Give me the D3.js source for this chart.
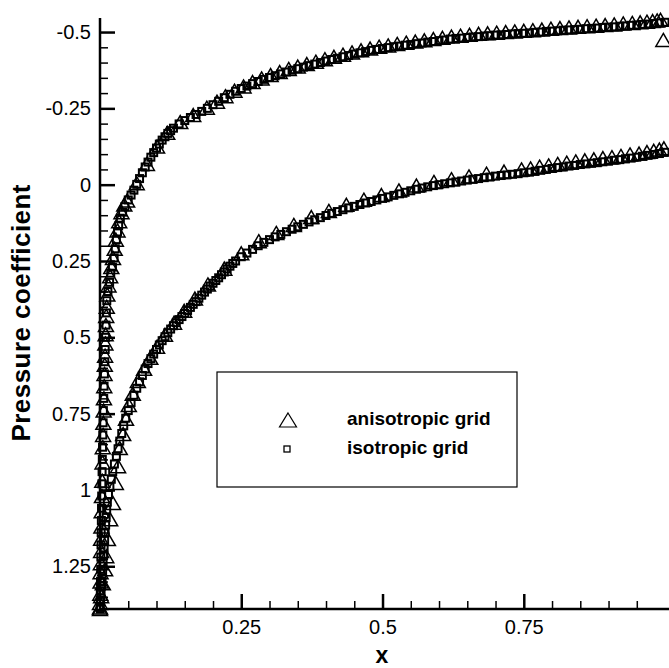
<!DOCTYPE html>
<html>
<head>
<meta charset="utf-8">
<script src="https://cdn.jsdelivr.net/npm/d3@7"></script>
<style>
  body { margin: 0; background: #fff; }
  text { font-family: "Liberation Sans", Arial, Helvetica, sans-serif; fill: #000; }
</style>
</head>
<body>
<div id="cp-chart"></div>
<script>
// Pressure coefficient, [x, cp]
var anisoUpper = [
  [0.000,1.39],[0.000,1.37],[0.0005,1.34],[0.001,1.30],[0.001,1.27],[0.0015,1.24],[0.002,1.20],[0.002,1.16],
  [0.0025,1.12],[0.003,1.07],[0.0035,1.02],[0.004,0.97],[0.0045,0.91],[0.005,0.86],[0.0055,0.82],[0.006,0.78],
  [0.0065,0.74],[0.007,0.70],[0.0075,0.66],[0.008,0.62],[0.0085,0.59],[0.009,0.56],[0.0095,0.52],[0.010,0.49],
  [0.0105,0.46],[0.011,0.43],[0.012,0.40],[0.013,0.36],[0.015,0.33],[0.018,0.30],[0.020,0.27],[0.023,0.24],
  [0.026,0.21],[0.028,0.18],[0.031,0.15],[0.034,0.12],[0.038,0.09],[0.043,0.065],
  [0.048,0.052],[0.065,-0.005],[0.083,-0.068],[0.101,-0.125],[0.119,-0.170],[0.142,-0.205],[0.165,-0.228],
  [0.189,-0.252],[0.207,-0.272],[0.222,-0.290],[0.238,-0.308],[0.254,-0.322],[0.270,-0.336],[0.286,-0.348],
  [0.302,-0.359],[0.318,-0.369],[0.334,-0.379],[0.350,-0.387],[0.366,-0.395],[0.382,-0.403],[0.398,-0.411],
  [0.414,-0.419],[0.430,-0.426],[0.446,-0.433],[0.462,-0.440],[0.478,-0.446],[0.494,-0.452],[0.510,-0.456],
  [0.526,-0.461],[0.542,-0.465],[0.558,-0.469],[0.574,-0.473],[0.590,-0.477],[0.606,-0.481],[0.622,-0.485],
  [0.638,-0.488],[0.654,-0.491],[0.670,-0.494],[0.686,-0.496],[0.702,-0.498],[0.718,-0.500],[0.734,-0.502],
  [0.750,-0.504],[0.766,-0.506],[0.782,-0.508],[0.798,-0.511],[0.814,-0.513],[0.830,-0.515],[0.846,-0.517],
  [0.862,-0.519],[0.878,-0.521],[0.894,-0.523],[0.910,-0.525],[0.926,-0.528],[0.942,-0.530],[0.956,-0.532],
  [0.968,-0.534],[0.978,-0.536],[0.986,-0.538],[0.992,-0.540],[0.997,-0.474]
];

var anisoLower = [
  [0.000,1.385],[0.002,1.348],[0.005,1.306],[0.009,1.260],[0.011,1.217],[0.014,1.161],[0.018,1.096],
  [0.023,1.043],[0.028,0.977],[0.032,0.922],[0.035,0.863],[0.041,0.817],[0.046,0.767],[0.051,0.722],
  [0.058,0.685],[0.067,0.643],[0.078,0.603],[0.089,0.567],[0.101,0.531],[0.115,0.492],[0.131,0.452],
  [0.149,0.413],[0.168,0.373],[0.191,0.327],[0.220,0.275],[0.250,0.225],
  [0.281,0.185],[0.312,0.158],[0.343,0.132],[0.374,0.106],[0.405,0.086],[0.436,0.066],[0.467,0.049],
  [0.498,0.034],[0.529,0.019],[0.560,0.003],[0.591,-0.009],[0.622,-0.018],[0.653,-0.027],[0.684,-0.036],
  [0.715,-0.043],[0.746,-0.050],[0.762,-0.053],[0.778,-0.059],[0.794,-0.063],[0.810,-0.068],[0.826,-0.072],
  [0.842,-0.076],[0.858,-0.080],[0.874,-0.083],[0.890,-0.087],[0.906,-0.090],[0.922,-0.094],[0.938,-0.099],
  [0.954,-0.102],[0.968,-0.107],[0.980,-0.111],[0.990,-0.115],[0.998,-0.119]
];

var isoUpper = [
  [0.000,1.385],[0.0003,1.36],[0.0006,1.33],[0.0009,1.30],[0.0012,1.26],[0.0015,1.22],[0.0018,1.18],
  [0.0021,1.14],[0.0024,1.10],[0.0027,1.06],[0.003,1.02],[0.0033,0.98],[0.0037,0.94],[0.0041,0.90],
  [0.0045,0.86],[0.005,0.82],[0.0055,0.78],[0.006,0.74],[0.0066,0.70],[0.0072,0.66],[0.0078,0.62],
  [0.0085,0.58],[0.0092,0.54],[0.0099,0.50],[0.0106,0.46],[0.0113,0.42],[0.012,0.38],[0.014,0.35],
  [0.017,0.32],[0.019,0.29],[0.022,0.27],[0.025,0.24],[0.027,0.21],[0.029,0.18],[0.031,0.155],
  [0.033,0.135],[0.036,0.11],[0.040,0.09],[0.044,0.072],
  [0.05,0.050],[0.055,0.034],[0.06,0.018],[0.065,-0.001],[0.07,-0.020],[0.075,-0.039],[0.08,-0.058],
  [0.085,-0.074],[0.09,-0.090],[0.095,-0.105],[0.10,-0.120],[0.105,-0.133],[0.11,-0.146],[0.115,-0.157],
  [0.12,-0.168],[0.125,-0.177],[0.13,-0.185],[0.14,-0.199],[0.15,-0.210],[0.16,-0.220],[0.17,-0.230],
  [0.18,-0.240],[0.19,-0.250],[0.20,-0.262],[0.21,-0.273],[0.22,-0.285],[0.23,-0.296],[0.24,-0.306],
  [0.25,-0.315],[0.26,-0.323],[0.27,-0.331],[0.28,-0.338],[0.29,-0.345],[0.30,-0.351],[0.31,-0.357],
  [0.32,-0.363],[0.33,-0.369],[0.34,-0.375],[0.35,-0.380],[0.36,-0.385],[0.37,-0.390],[0.38,-0.395],
  [0.39,-0.400],[0.40,-0.405],[0.41,-0.410],[0.42,-0.414],[0.43,-0.419],[0.44,-0.423],[0.45,-0.428],
  [0.46,-0.432],[0.47,-0.436],[0.48,-0.440],[0.49,-0.443],[0.50,-0.446],[0.51,-0.449],[0.52,-0.452],
  [0.53,-0.454],[0.54,-0.457],[0.55,-0.459],[0.56,-0.462],[0.57,-0.464],[0.58,-0.467],[0.59,-0.469],
  [0.60,-0.472],[0.61,-0.474],[0.62,-0.477],[0.63,-0.479],[0.64,-0.480],[0.65,-0.482],[0.66,-0.484],
  [0.67,-0.485],[0.68,-0.487],[0.69,-0.488],[0.70,-0.490],[0.71,-0.491],[0.72,-0.492],[0.73,-0.494],
  [0.74,-0.495],[0.75,-0.496],[0.76,-0.497],[0.77,-0.499],[0.78,-0.500],[0.79,-0.502],[0.80,-0.503],
  [0.81,-0.504],[0.82,-0.506],[0.83,-0.507],[0.84,-0.508],[0.85,-0.509],[0.86,-0.511],[0.87,-0.512],
  [0.88,-0.513],[0.89,-0.515],[0.90,-0.516],[0.91,-0.517],[0.92,-0.519],[0.93,-0.520],[0.94,-0.522],
  [0.95,-0.523],[0.96,-0.525],[0.97,-0.526],[0.98,-0.528],[0.99,-0.530],[1.00,-0.532]
];

var isoLower = [
  [0.0005,1.39],[0.0012,1.365],[0.0019,1.34],[0.0027,1.315],[0.0037,1.29],[0.0046,1.265],[0.0055,1.24],
  [0.0064,1.215],[0.0073,1.19],[0.0082,1.165],[0.0091,1.14],[0.0100,1.115],[0.0109,1.09],[0.0118,1.065],
  [0.0130,1.04],[0.0150,1.015],[0.0175,0.99],[0.0200,0.965],[0.0225,0.94],[0.0255,0.915],[0.0290,0.89],
  [0.0320,0.865],[0.0350,0.84],[0.0385,0.815],[0.0420,0.79],[0.0455,0.765],
  [0.05,0.740],[0.055,0.714],[0.06,0.690],[0.065,0.667],[0.07,0.646],[0.075,0.625],[0.08,0.604],
  [0.085,0.586],[0.09,0.570],[0.095,0.555],[0.10,0.540],[0.105,0.525],[0.11,0.511],[0.115,0.498],
  [0.12,0.485],[0.125,0.473],[0.13,0.462],[0.135,0.452],[0.14,0.442],[0.145,0.432],[0.15,0.422],
  [0.155,0.412],[0.16,0.402],[0.165,0.392],[0.17,0.383],[0.175,0.372],[0.18,0.362],[0.185,0.352],
  [0.19,0.342],[0.195,0.332],[0.20,0.323],[0.205,0.314],[0.21,0.305],[0.215,0.295],[0.22,0.286],
  [0.225,0.276],[0.23,0.267],[0.235,0.258],[0.24,0.250],[0.25,0.236],[0.26,0.224],[0.27,0.212],
  [0.28,0.200],[0.29,0.189],[0.30,0.180],[0.31,0.171],[0.32,0.163],[0.33,0.154],[0.34,0.146],
  [0.35,0.138],[0.36,0.130],[0.37,0.122],[0.38,0.115],[0.39,0.108],[0.40,0.101],[0.41,0.094],
  [0.42,0.088],[0.43,0.082],[0.44,0.076],[0.45,0.071],[0.46,0.065],[0.47,0.060],[0.48,0.055],
  [0.49,0.050],[0.50,0.045],[0.51,0.040],[0.52,0.035],[0.53,0.030],[0.54,0.025],[0.55,0.020],
  [0.56,0.015],[0.57,0.011],[0.58,0.007],[0.59,0.003],[0.60,0.000],[0.61,-0.003],[0.62,-0.006],
  [0.63,-0.009],[0.64,-0.012],[0.65,-0.015],[0.66,-0.018],[0.67,-0.020],[0.68,-0.023],[0.69,-0.025],
  [0.70,-0.028],[0.71,-0.030],[0.72,-0.032],[0.73,-0.034],[0.74,-0.036],[0.75,-0.039],[0.76,-0.041],
  [0.77,-0.044],[0.78,-0.047],[0.79,-0.050],[0.80,-0.053],[0.81,-0.056],[0.82,-0.058],[0.83,-0.061],
  [0.84,-0.063],[0.85,-0.066],[0.86,-0.068],[0.87,-0.070],[0.88,-0.072],[0.89,-0.075],[0.90,-0.077],
  [0.91,-0.080],[0.92,-0.082],[0.93,-0.085],[0.94,-0.087],[0.95,-0.090],[0.96,-0.093],[0.97,-0.096],
  [0.98,-0.099],[0.99,-0.102],[1.00,-0.106]
];

// tick values and labels
var yTicks = [-0.5, -0.25, 0, 0.25, 0.5, 0.75, 1, 1.25];
var yTickLabels = ["-0.5", "-0.25", "0", "0.25", "0.5", "0.75", "1", "1.25"];
var xTicks = [0.25, 0.5, 0.75];
var xTickLabels = ["0.25", "0.5", "0.75"];
var legendLabels = ["anisotropic grid", "isotropic grid"];

var width = 669, height = 668;

var svg = d3.select("#cp-chart")
  .append("svg")
    .attr("width", width)
    .attr("height", height);

var x = d3.scaleLinear().domain([0, 1.007]).range([100, 669]);
// cp axis is reversed: negative values on top
var y = d3.scaleLinear().domain([-0.546, 1.39]).range([18, 609]);

var yMinor = d3.range(-45, 140, 5).map((d) => d / 100).filter((d) => yTicks.indexOf(d) < 0);
var xMinor = d3.range(5, 100, 5).map((d) => d / 100).filter((d) => xTicks.indexOf(d) < 0);

// Markers first, axes on top
var tri = "M0,-6.5L7.5,6.5L-7.5,6.5Z";

[anisoUpper, anisoLower].forEach((series) => {
  svg.append("g")
    .selectAll("path")
    .data(series)
    .enter()
    .append("path")
      .attr("d", tri)
      .attr("transform", (d) => "translate(" + x(d[0]) + "," + y(d[1]) + ")")
      .attr("fill", "none")
      .attr("stroke", "#000")
      .attr("stroke-width", 1.5);
});

[isoUpper, isoLower].forEach((series) => {
  svg.append("g")
    .selectAll("rect")
    .data(series)
    .enter()
    .append("rect")
      .attr("x", (d) => x(d[0]) - 3.5)
      .attr("y", (d) => y(d[1]) - 3.5)
      .attr("width", 7)
      .attr("height", 7)
      .attr("fill", "none")
      .attr("stroke", "#000")
      .attr("stroke-width", 2);
});

// Add Y axis (ticks point inward)
var yAxis = svg.append("g")
  .attr("transform", "translate(" + x(0) + ",0)")
  .call(d3.axisLeft(y)
    .tickValues(yTicks)
    .tickSize(-15)
    .tickPadding(9)
    .tickFormat((d, i) => yTickLabels[i]));

var yAxisMinor = svg.append("g")
  .attr("transform", "translate(" + x(0) + ",0)")
  .call(d3.axisLeft(y)
    .tickValues(yMinor)
    .tickSize(-8)
    .tickFormat(() => ""));

// Add X axis
var xAxis = svg.append("g")
  .attr("transform", "translate(0," + y(1.39) + ")")
  .call(d3.axisBottom(x)
    .tickValues(xTicks)
    .tickSize(-15)
    .tickPadding(11)
    .tickFormat((d, i) => xTickLabels[i]));

var xAxisMinor = svg.append("g")
  .attr("transform", "translate(0," + y(1.39) + ")")
  .call(d3.axisBottom(x)
    .tickValues(xMinor)
    .tickSize(-8)
    .tickFormat(() => ""));

[yAxis, yAxisMinor, xAxis, xAxisMinor].forEach((g) => g.select(".domain").remove());
[yAxis, xAxis].forEach((g) => {
  g.selectAll("line").attr("stroke", "#000").attr("stroke-width", 2.5);
  g.selectAll("text").style("font-size", "20px").attr("fill", "#000");
});
[yAxisMinor, xAxisMinor].forEach((g) => g.selectAll("line").attr("stroke", "#000").attr("stroke-width", 1.5));

// axis lines
svg.append("line")
  .attr("x1", x(0)).attr("x2", x(0))
  .attr("y1", y.range()[0]).attr("y2", y.range()[1] + 1)
  .attr("stroke", "#000").attr("stroke-width", 2.5);
svg.append("line")
  .attr("x1", x(0) - 1).attr("x2", x.range()[1])
  .attr("y1", y.range()[1]).attr("y2", y.range()[1])
  .attr("stroke", "#000").attr("stroke-width", 2.5);

// axis titles
svg.append("text")
  .attr("transform", "translate(29.5,313) rotate(-90)")
  .attr("text-anchor", "middle")
  .attr("textLength", 257)
  .attr("lengthAdjust", "spacing")
  .style("font-size", "26px")
  .style("font-weight", "bold")
  .text("Pressure coefficient");

svg.append("text")
  .attr("x", 382)
  .attr("y", 663)
  .attr("text-anchor", "middle")
  .style("font-size", "23px")
  .style("font-weight", "bold")
  .text("x");

// Legend
var legend = svg.append("g").attr("transform", "translate(217,372)");
legend.append("rect")
  .attr("width", 300)
  .attr("height", 115)
  .attr("fill", "none")
  .attr("stroke", "#000")
  .attr("stroke-width", 1.2);
legend.append("path")
  .attr("d", "M0,-7L8.5,7L-8.5,7Z")
  .attr("transform", "translate(71,48)")
  .attr("fill", "none")
  .attr("stroke", "#000")
  .attr("stroke-width", 1.2);
legend.append("rect")
  .attr("x", 67).attr("y", 74)
  .attr("width", 6).attr("height", 6)
  .attr("fill", "none")
  .attr("stroke", "#000")
  .attr("stroke-width", 1.3);
legend.selectAll("text.lg")
  .data(legendLabels)
  .enter()
  .append("text")
    .attr("class", "lg")
    .attr("x", 130)
    .attr("y", (d, i) => 53 + i * 29)
    .style("font-size", "19px")
    .style("font-weight", "bold")
    .text((d) => d);
</script>
</body>
</html>
